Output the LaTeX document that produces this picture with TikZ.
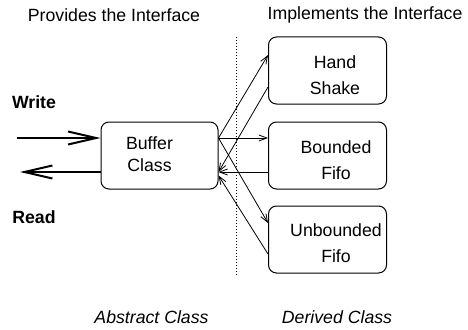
\documentclass[tikz,border=0pt]{standalone}
\usepackage{fontspec}
\setmainfont{Liberation Sans}
\usepackage{tikz}
\usetikzlibrary{arrows.meta}

\begin{document}
\begin{tikzpicture}[
      x=1pt, y=-1pt,
      font=\fontsize{17.7}{21}\selectfont,
      module/.style = {shape=rectangle, rounded corners=8pt, draw, line width=1pt, minimum width=118pt, minimum height=67pt},
      caption/.style = {align=center, inner sep=0pt, font=\fontsize{17.7}{26}\selectfont},
      call/.style = {-{Straight Barb[length=8pt,width=6pt]}, line width=0.8pt},
      port/.style = {-{Straight Barb[length=28pt,width=13pt,line width=2pt]}, line width=2pt},
      side/.style = {font=\fontsize{17.7}{21}\selectfont\bfseries},
      kind/.style = {font=\fontsize{17.7}{21}\selectfont\itshape}
    ]
      \useasboundingbox (0,0) rectangle (468,329);

      \node (provides) at (114,15) {Provides the Interface};
      \node (implements) at (365,15) {Implements the Interface};

      \node[module, minimum width=117pt] (buffer) at (159.5,155.5) {};
      \node[caption] (buffertext) at (149.5,154) {Buffer\\[-4pt]Class};

      \node[module] (hand) at (327.5,70.5) {};
      \node[caption] (handtext) at (335,75) {Hand\\Shake};
      \node[module] (bounded) at (327.5,155.5) {};
      \node[caption] (boundedtext) at (336,160) {Bounded\\Fifo};
      \node[module] (unbounded) at (327.5,239.5) {};
      \node[caption] (unboundedtext) at (336,243.5) {Unbounded\\Fifo};

      \node[side] (write) at (34,102) {Write};
      \node[side] (read) at (34,217) {Read};
      \coordinate (writein) at (17,138);
      \coordinate (readout) at (20,172);
      \draw[port] (writein) -- ([yshift=17.5pt]buffer.west);
      \draw[port] ([yshift=-16.5pt]buffer.west) -- (readout);

      \coordinate (septop) at (236,37);
      \coordinate (sepbottom) at (236,276);
      \draw[dotted, line width=1pt] (septop) -- (sepbottom);

      \draw[call] ([yshift=17.5pt]buffer.east) -- ([yshift=15.5pt]hand.west);
      \draw[call] ([yshift=17.5pt]buffer.east) -- ([yshift=17.5pt]bounded.west);
      \draw[call] ([yshift=17.5pt]buffer.east) -- ([yshift=16.5pt]unbounded.west);
      \draw[call] ([yshift=-16.5pt]hand.west) -- ([yshift=-16.5pt]buffer.east);
      \draw[call] ([yshift=-16.5pt]bounded.west) -- ([yshift=-16.5pt]buffer.east);
      \draw[call] ([yshift=-14.5pt]unbounded.west) -- ([yshift=-20pt]buffer.east);

      \node[kind] (abstract) at (151.5,317) {Abstract Class};
      \node[kind] (derived) at (337,317) {Derived Class};
    \end{tikzpicture}
\end{document}
